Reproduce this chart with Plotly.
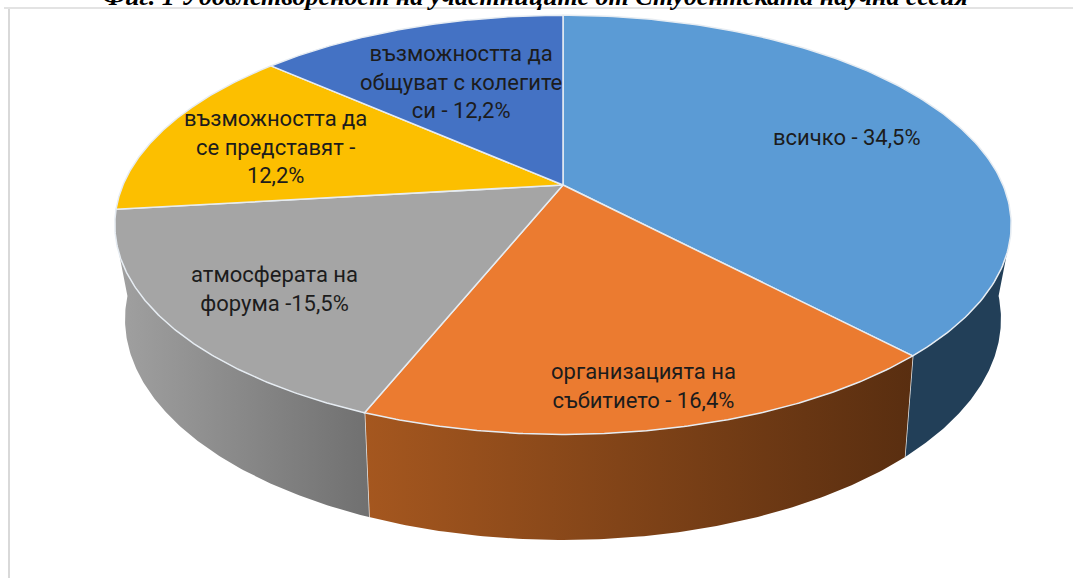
import numpy as np
import plotly.graph_objects as go

categories = ["всичко", "организацията на събитието", "атмосферата на форума",
              "възможността да се представят", "възможността да общуват с колегите си"]
values = [34.5, 16.4, 15.5, 12.2, 12.2]
value_labels = ["всичко - 34,5%", "организацията на<br>събитието - 16,4%",
                "атмосферата на<br>форума -15,5%", "възможността да<br>се представят -<br>12,2%",
                "възможността да<br>общуват с колегите<br>си - 12,2%"]
label_x = [847, 643, 274, 275, 461]
label_y = [137, 386, 289, 147, 82]
top_colors = ["#5B9BD5", "#EB7B30", "#A5A5A5", "#FCBF00", "#4472C4"]
side_colors = [["#223F58", "#223F58"], ["#A5571F", "#592E10"], ["#A0A0A0", "#707070"], None, None]
title_text = "Фиг. 1 Удовлетвореност на участниците от Студентската научна сесия"

W, H = 1073, 578
CX, CY, R, B, P = 563, 185, 440, 202, 0.19
CY2, R2, B2 = 277, 430, 213
# where the wall's outline leaves the top and the bottom rims
RIGHT_TOP, RIGHT_BOTTOM = np.radians(108.7), np.radians(95)
LEFT_TOP, LEFT_BOTTOM = np.radians(251.3), np.radians(265)


def project(theta, cy, r, b):
    X, Y = np.sin(theta), -np.cos(theta)
    k = 1 / (1 - P * Y)
    return CX + r * X * k, cy + b * Y * k


fracs = np.cumsum([0] + values) / sum(values)
angles = fracs * 2 * np.pi
fig = go.Figure()

# side walls
for i, sc in enumerate(side_colors):
    if sc is None:
        continue
    top0, top1 = angles[i], angles[i + 1]
    bot0, bot1 = angles[i], angles[i + 1]
    if i == 0:
        top0, bot0 = RIGHT_TOP, RIGHT_BOTTOM
    if i == 2:
        top1, bot1 = LEFT_TOP, LEFT_BOTTOM
    x1, y1 = project(np.linspace(top0, top1, 120), CY, R, B)
    x2, y2 = project(np.linspace(bot1, bot0, 120), CY2, R2, B2)
    fig.add_trace(go.Scatter(
        x=np.r_[x1, x2, x1[0]], y=np.r_[y1, y2, y1[0]], mode="lines", fill="toself",
        line=dict(color="rgba(0,0,0,0)", width=0),
        fillgradient=dict(type="horizontal", colorscale=[[0, sc[0]], [1, sc[1]]]),
        hoverinfo="skip", showlegend=False))
    if i in (0, 1):
        ex1, ey1 = project(np.array([angles[i + 1]]), CY, R, B)
        ex2, ey2 = project(np.array([angles[i + 1]]), CY2, R2, B2)
        fig.add_trace(go.Scatter(x=[ex1[0], ex2[0]], y=[ey1[0], ey2[0]], mode="lines",
                                 line=dict(color="#E8E8E8", width=1.5),
                                 hoverinfo="skip", showlegend=False))

# top faces
for i, c in enumerate(top_colors):
    t = np.linspace(angles[i], angles[i + 1], 160)
    x, y = project(t, CY, R, B)
    fig.add_trace(go.Scatter(
        x=np.r_[CX, x, CX], y=np.r_[CY, y, CY], mode="lines", fill="toself", fillcolor=c,
        line=dict(color="#E6ECF2", width=1.5), name=categories[i],
        hoverinfo="name", showlegend=False))

annotations = [dict(x=x, y=y, text=s, showarrow=False, xref="x", yref="y",
                    font=dict(family="Roboto", size=22, color="#1c1c1c"), align="center")
               for x, y, s in zip(label_x, label_y, value_labels)]
annotations.append(dict(x=535, y=13, yanchor="bottom", text="<b><i>" + title_text + "</i></b>",
                        showarrow=False, xref="x", yref="y",
                        font=dict(family="Liberation Serif", size=26, color="#000000"),
                        align="center"))

fig.update_layout(
    width=W, height=H, margin=dict(l=0, r=0, t=0, b=0), paper_bgcolor="white", plot_bgcolor="white",
    xaxis=dict(range=[0, W], visible=False, fixedrange=True),
    yaxis=dict(range=[H, 0], visible=False, fixedrange=True),
    annotations=annotations,
    shapes=[dict(type="line", xref="x", yref="y", x0=9, x1=9, y0=8, y1=578,
                 line=dict(color="#D9D9D9", width=2)),
            dict(type="line", xref="x", yref="y", x0=4, x1=W, y0=8, y1=8,
                 line=dict(color="#E3E3E3", width=2))],
)
fig.write_html("out.html", config={"displayModeBar": False},
               post_script="document.body.style.margin='0';")
